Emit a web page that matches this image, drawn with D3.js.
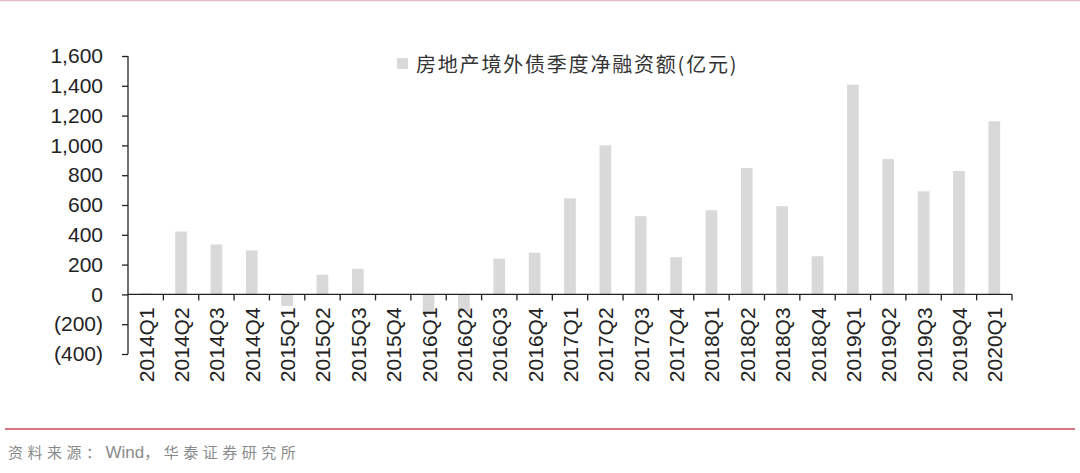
<!DOCTYPE html>
<html><head><meta charset="utf-8">
<script src="https://cdn.jsdelivr.net/npm/d3@7"></script>
<style>body{margin:0;background:#fff;}svg{display:block;}</style>
</head><body>
<svg id="c" width="1080" height="473"></svg>
<script>
const categories = ["2014Q1","2014Q2","2014Q3","2014Q4","2015Q1","2015Q2","2015Q3","2015Q4","2016Q1","2016Q2","2016Q3","2016Q4","2017Q1","2017Q2","2017Q3","2017Q4","2018Q1","2018Q2","2018Q3","2018Q4","2019Q1","2019Q2","2019Q3","2019Q4","2020Q1"];
const values = [8,422,335,295,-78,132,172,2,-130,-120,240,280,645,1000,525,250,565,848,592,256,1408,908,692,828,1162];
const yTicks = [-400,-200,0,200,400,600,800,1000,1200,1400,1600];
const seriesName = "房地产境外债季度净融资额(亿元)";
const sourceParts = ["资料来源：", "Wind", "，华泰证券研究所"];

const svg = d3.select("#c");
const x = d3.scaleBand().domain(categories).range([128,1012]).paddingInner(0).paddingOuter(0);
const y = d3.scaleLinear().domain([-400,1600]).range([354,56]);
const fmt = v => v < 0 ? "(" + d3.format(",")(-v) + ")" : d3.format(",")(v);

// top thin line
svg.append("line").attr("x1",0).attr("x2",1080).attr("y1",0.5).attr("y2",0.5)
  .attr("stroke","#e4bcc3").attr("stroke-width",1.5);

// bars
const bw = x.bandwidth()*0.33;
svg.append("g").selectAll("rect").data(categories).join("rect")
  .attr("x", (d)=> x(d) + x.bandwidth()/2 - bw/2)
  .attr("width", bw)
  .attr("y", (d,i)=> y(Math.max(0, values[i])))
  .attr("height", (d,i)=> Math.abs(y(values[i]) - y(0)))
  .attr("fill","#d9d9d9");

// y axis
const yAxis = d3.axisLeft(y).tickValues(yTicks).tickFormat(fmt).tickSize(6).tickPadding(19);
const gy = svg.append("g").attr("transform","translate(128,0)").call(yAxis);
gy.select(".domain").attr("stroke","#222").attr("stroke-width",1.3).attr("d","M0,"+y(-400)+"V"+y(1600));
gy.selectAll(".tick line").attr("stroke","#222").attr("stroke-width",1.3);
gy.selectAll("text").attr("font-family","'Liberation Sans',Arial,sans-serif").attr("font-size",21).attr("fill","#222");

// x axis at zero
const gx = svg.append("g").attr("transform","translate(0,"+y(0)+")");
gx.append("line").attr("x1",128).attr("x2",1012).attr("y1",0).attr("y2",0).attr("stroke","#222").attr("stroke-width",1.3);
const bounds = categories.map(d=>x(d)).concat([x.range()[1]]);
gx.selectAll("line.tk").data(bounds.slice(1)).join("line").attr("class","tk")
  .attr("x1",d=>d).attr("x2",d=>d).attr("y1",0).attr("y2",6).attr("stroke","#222").attr("stroke-width",1.3);
gx.selectAll("text").data(categories).join("text")
  .attr("transform", d=>"translate("+(x(d)+x.bandwidth()/2+8)+",13) rotate(-90)")
  .attr("text-anchor","end")
  .attr("font-family","'Liberation Sans',Arial,sans-serif").attr("font-size",21).attr("fill","#222")
  .text(d=>d);

// legend
svg.append("rect").attr("x",397).attr("y",58).attr("width",11).attr("height",11).attr("fill","#d9d9d9");
svg.append("text").attr("x",416).attr("y",72).attr("font-family","'Noto Sans CJK SC',sans-serif")
  .attr("font-size",20).attr("letter-spacing",1.8).attr("fill","#333").text(seriesName);

// bottom red line
svg.append("line").attr("x1",5).attr("x2",1075).attr("y1",429).attr("y2",429)
  .attr("stroke","#d9737d").attr("stroke-width",2);

// source
const src = svg.append("text").attr("x",8).attr("y",458).attr("font-family","'Noto Sans CJK SC',sans-serif")
  .attr("font-size",15).attr("fill","#8a8a8a");
src.selectAll("tspan").data(sourceParts).join("tspan")
  .attr("letter-spacing",(d,i)=> i===1 ? 0 : 4.5)
  .attr("font-family",(d,i)=> i===1 ? "'Liberation Sans',Arial,sans-serif" : null)
  .attr("font-size",(d,i)=> i===1 ? 17 : null)
  .text(d=>d);
</script>
</body></html>
